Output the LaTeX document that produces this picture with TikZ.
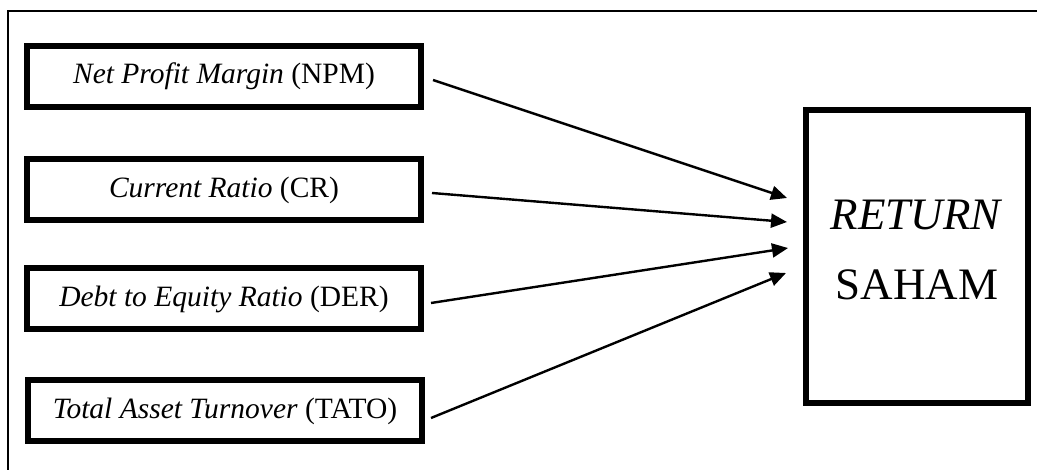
\documentclass[tikz,border=0pt]{standalone}
\usepackage{fontspec}
\setmainfont{Liberation Serif}
\usetikzlibrary{arrows.meta}
\tikzset{
  inbox/.style={draw=black, line width=6pt, minimum width=394pt, minimum height=61pt,
    inner sep=0pt, font=\fontsize{29.5}{34}\selectfont},
  outbox/.style={draw=black, line width=6pt, minimum width=222pt, minimum height=293pt,
    inner sep=0pt, align=center, font=\fontsize{45}{70}\selectfont},
  link/.style={line width=2.4pt, -{Triangle[length=16pt,width=14pt]}},
  frame/.style={line width=2.2pt}
}
\begin{document}
\begin{tikzpicture}[x=1pt,y=-1pt]
\useasboundingbox (0,0) rectangle (1037,470);
\clip (0,0) rectangle (1037,470);
\draw[frame] (8,490) -- (8,11) -- (1060,11);
\node[inbox] (b1) at (224,76.5) {\textit{Net Profit Margin} (NPM)};
\node[inbox] (b2) at (224,190) {\textit{Current Ratio} (CR)};
\node[inbox] (b3) at (224,299) {\textit{Debt to Equity Ratio} (DER)};
\node[inbox] (b4) at (225,411) {\textit{Total Asset Turnover} (TATO)};
\node[outbox] (r) at (917,256.5) {\textit{RETURN}\\SAHAM\rule[-13pt]{0pt}{13pt}};
\coordinate (t1) at ([shift={(-16,-58.5)}]r.west);
\coordinate (t2) at ([shift={(-16,-34.5)}]r.west);
\coordinate (t3) at ([shift={(-15,-8.5)}]r.west);
\coordinate (t4) at ([shift={(-17,16.5)}]r.west);
\draw[link] ([shift={(9,3.5)}]b1.east) -- (t1);
\draw[link] ([shift={(8,3)}]b2.east) -- (t2);
\draw[link] ([shift={(7,4)}]b3.east) -- (t3);
\draw[link] ([shift={(6,7)}]b4.east) -- (t4);
\end{tikzpicture}
\end{document}
